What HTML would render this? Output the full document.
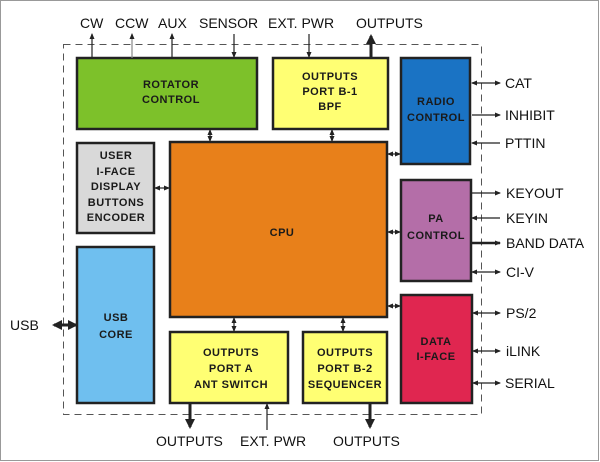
<!DOCTYPE html>
<html><head><style>body{margin:0;background:#fff}svg{display:block}
.l{font-family:"Liberation Sans",sans-serif;font-size:14px;fill:#111}
.b{font-family:"Liberation Sans",sans-serif;font-size:11px;font-weight:bold;fill:#1a1a1a;text-anchor:middle;letter-spacing:0.5px}
</style></head><body>
<svg width="600" height="462" viewBox="0 0 600 462" xmlns="http://www.w3.org/2000/svg">
<defs>
<marker id="a" markerWidth="6" markerHeight="6" refX="5" refY="3" orient="auto-start-reverse" markerUnits="userSpaceOnUse"><path d="M0,0.5 L6,3 L0,5.5z" fill="#222"/></marker>
<marker id="t" markerWidth="10" markerHeight="10" refX="8" refY="5" orient="auto-start-reverse" markerUnits="userSpaceOnUse"><path d="M0,0 L10,5 L0,10z" fill="#222"/></marker>
</defs>
<rect x="0.5" y="0.5" width="598" height="460" fill="#fff" stroke="#999"/>
<rect x="63.5" y="44.5" width="418" height="370" fill="none" stroke="#555" stroke-dasharray="7,5"/>
<g stroke="#222" stroke-width="2.5">
<rect x="77" y="58" width="180" height="71" fill="#7dc12a"/>
<rect x="273" y="58" width="115" height="71" fill="#ffff73"/>
<rect x="401" y="58" width="69" height="106" fill="#1a73c4"/>
<rect x="77" y="143" width="77" height="90" fill="#d9d9d9"/>
<rect x="170" y="142" width="217" height="175" fill="#e8801a"/>
<rect x="401" y="180" width="70" height="101" fill="#b46ea8"/>
<rect x="401" y="295" width="71" height="108" fill="#e02650"/>
<rect x="77" y="247" width="77" height="156" fill="#6fbfef"/>
<rect x="170" y="332" width="118" height="71" fill="#ffff73"/>
<rect x="303" y="332" width="84" height="71" fill="#ffff73"/>
</g>
<g stroke="#222" stroke-width="1.2" fill="none">
<line x1="92" y1="58" x2="92" y2="34" marker-end="url(#a)"/>
<line x1="132" y1="58" x2="132" y2="34" marker-end="url(#a)" stroke="#888"/>
<line x1="172" y1="58" x2="172" y2="34" marker-end="url(#a)"/>
<line x1="234" y1="34" x2="234" y2="57" marker-end="url(#a)"/>
<line x1="309" y1="34" x2="309" y2="57" marker-end="url(#a)"/>
<line x1="210" y1="130" x2="210" y2="141" marker-start="url(#a)" marker-end="url(#a)"/>
<line x1="332" y1="130" x2="332" y2="141" marker-start="url(#a)" marker-end="url(#a)"/>
<line x1="155" y1="188" x2="169" y2="188" marker-start="url(#a)" marker-end="url(#a)"/>
<line x1="388" y1="154" x2="400" y2="154" marker-start="url(#a)" marker-end="url(#a)"/>
<line x1="388" y1="232" x2="400" y2="232" marker-start="url(#a)" marker-end="url(#a)"/>
<line x1="388" y1="306" x2="400" y2="306" marker-start="url(#a)" marker-end="url(#a)"/>
<line x1="234" y1="318" x2="234" y2="331" marker-start="url(#a)" marker-end="url(#a)"/>
<line x1="343" y1="318" x2="343" y2="331" marker-start="url(#a)" marker-end="url(#a)"/>
<line x1="267" y1="430" x2="267" y2="404" marker-end="url(#a)"/>
<line x1="472" y1="83" x2="500" y2="83" marker-start="url(#a)" marker-end="url(#a)"/>
<line x1="472" y1="115" x2="500" y2="115" marker-end="url(#a)"/>
<line x1="500" y1="143" x2="472" y2="143" marker-end="url(#a)"/>
<line x1="472" y1="193" x2="500" y2="193" marker-end="url(#a)"/>
<line x1="500" y1="218" x2="472" y2="218" marker-end="url(#a)"/>
<line x1="472" y1="272" x2="500" y2="272" marker-start="url(#a)" marker-end="url(#a)"/>
<line x1="473" y1="313" x2="500" y2="313" marker-start="url(#a)" marker-end="url(#a)"/>
<line x1="473" y1="351" x2="500" y2="351" marker-start="url(#a)" marker-end="url(#a)"/>
<line x1="473" y1="383" x2="500" y2="383" marker-start="url(#a)" marker-end="url(#a)"/>
</g>
<g stroke="#222" stroke-width="3" fill="none">
<line x1="371" y1="58" x2="371" y2="36" marker-end="url(#t)"/>
<line x1="472" y1="243" x2="500" y2="243" stroke-width="2.5" marker-end="url(#a)"/>
<line x1="190" y1="404" x2="190" y2="427" marker-end="url(#t)"/>
<line x1="370" y1="404" x2="370" y2="427" marker-end="url(#t)"/>
<line x1="54" y1="325" x2="76" y2="325" marker-start="url(#t)" marker-end="url(#t)"/>
</g>
<text class="l" x="80" y="28">CW</text>
<text class="l" x="115" y="28">CCW</text>
<text class="l" x="158" y="28">AUX</text>
<text class="l" x="199" y="28">SENSOR</text>
<text class="l" x="268" y="28">EXT. PWR</text>
<text class="l" x="356" y="28">OUTPUTS</text>
<text class="l" x="505" y="88">CAT</text>
<text class="l" x="505" y="120">INHIBIT</text>
<text class="l" x="505" y="148">PTTIN</text>
<text class="l" x="506" y="198">KEYOUT</text>
<text class="l" x="506" y="223">KEYIN</text>
<text class="l" x="506" y="248">BAND DATA</text>
<text class="l" x="506" y="277">CI-V</text>
<text class="l" x="506" y="318">PS/2</text>
<text class="l" x="506" y="356">iLINK</text>
<text class="l" x="505" y="388">SERIAL</text>
<text class="l" x="10" y="330">USB</text>
<text class="l" x="156" y="446">OUTPUTS</text>
<text class="l" x="240" y="446">EXT. PWR</text>
<text class="l" x="333" y="446">OUTPUTS</text>
<text class="b" x="171" y="88">ROTATOR</text>
<text class="b" x="171" y="103">CONTROL</text>
<text class="b" x="330" y="80">OUTPUTS</text>
<text class="b" x="330" y="95">PORT B-1</text>
<text class="b" x="330" y="110">BPF</text>
<text class="b" x="436" y="105">RADIO</text>
<text class="b" x="436" y="121">CONTROL</text>
<text class="b" x="116" y="159">USER</text>
<text class="b" x="116" y="175">I-FACE</text>
<text class="b" x="116" y="190">DISPLAY</text>
<text class="b" x="116" y="206">BUTTONS</text>
<text class="b" x="116" y="221">ENCODER</text>
<text class="b" x="282" y="236">CPU</text>
<text class="b" x="436" y="222">PA</text>
<text class="b" x="436" y="239">CONTROL</text>
<text class="b" x="436" y="345">DATA</text>
<text class="b" x="436" y="360">I-FACE</text>
<text class="b" x="116" y="321">USB</text>
<text class="b" x="116" y="338">CORE</text>
<text class="b" x="231" y="356">OUTPUTS</text>
<text class="b" x="231" y="372">PORT A</text>
<text class="b" x="231" y="388">ANT SWITCH</text>
<text class="b" x="345" y="356">OUTPUTS</text>
<text class="b" x="345" y="372">PORT B-2</text>
<text class="b" x="345" y="388">SEQUENCER</text>
</svg>
</body></html>
